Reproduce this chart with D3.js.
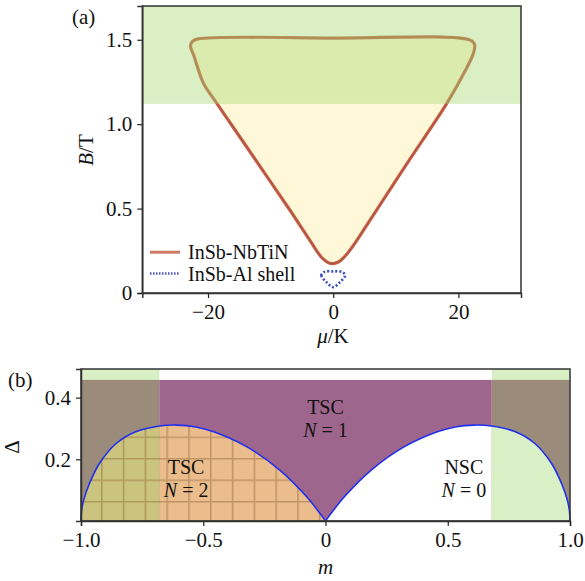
<!DOCTYPE html>
<html><head><meta charset="utf-8">
<script src="https://cdn.jsdelivr.net/npm/d3@7"></script>
</head><body style="margin:0;background:#fff">
<svg id="c" width="585" height="581"></svg>
<script>
// ---- Panel (a) data ----
const muTicks = [-20, 0, 20];
const bTicks = [0, 0.5, 1.0, 1.5];
const greenBandB = [1.12, 1.7];
const nbtinMu = [-21.6,-22.5,-22.8,-22.3,-20.7,-18.9,-12.8,-6.9,-3.7,-1.7,-0.4,0.9,2.6,6.2,12.2,18.1,21.0,22.4,22.6,21.9,0];
const nbtinB  = [1.505,1.49,1.46,1.41,1.24,1.14,0.81,0.49,0.31,0.205,0.175,0.185,0.25,0.45,0.79,1.12,1.31,1.42,1.47,1.498,1.51];
const alMu = [-1.4,-1.9,-1.1,0,1.1,1.9,1.4,0];
const alB  = [0.125,0.105,0.065,0.035,0.065,0.105,0.125,0.128];
const legendLabels = ["InSb-NbTiN", "InSb-Al shell"];
// ---- Panel (b) data ----
const mTicks = [-1.0, -0.5, 0, 0.5, 1.0];
const mTickLabels = ["\u22121.0", "\u22120.5", "0", "0.5", "1.0"];
const dTicks = [0.2, 0.4];
const mBound = 0.68, dTop = 0.4575;
const leftM = [-1,-0.998,-0.99,-0.965,-0.924,-0.855,-0.774,-0.678,-0.61,-0.53,-0.46,-0.323,-0.187,-0.078,0];
const leftD = [0,0.03,0.065,0.122,0.187,0.252,0.29,0.308,0.311,0.305,0.29,0.241,0.165,0.079,0];
const rightM = [0,0.078,0.187,0.323,0.46,0.53,0.61,0.678,0.774,0.855,0.924,0.965,0.99,0.998,1];
const rightD = [0,0.079,0.165,0.241,0.29,0.305,0.311,0.308,0.29,0.252,0.187,0.122,0.065,0.03,0];

const FONT = "Liberation Serif";
const FS = 21;
const svg = d3.select("#c");
const defs = svg.append("defs");

// ===== Panel (a) =====
const xa = d3.scaleLinear().domain([-30.5, 30]).range([142.3, 521]);
const ya = d3.scaleLinear().domain([0, 1.7]).range([293, 6]);
const ga = svg.append("g");
const nb = nbtinMu.map((m,i)=>[m, nbtinB[i]]);
const lineA = d3.line().x(d=>xa(d[0])).y(d=>ya(d[1])).curve(d3.curveCatmullRomClosed.alpha(0.5));
ga.append("path").attr("d", lineA(nb)).attr("fill","#fff8d8").attr("stroke","#c4614a").attr("stroke-width",3.2).attr("stroke-linejoin","round");
ga.append("path").attr("d", lineA(nb)).attr("fill","none").attr("stroke","#9c3e2a").attr("stroke-width",1).attr("opacity",0.5);
const al = alMu.map((m,i)=>[m, alB[i]]);
ga.append("path").attr("d", lineA(al)).attr("fill","none").attr("stroke","#3d4fc0").attr("stroke-width",2.6).attr("stroke-dasharray","2,2");
ga.append("rect").attr("x", xa(-30.5)).attr("width", xa(30)-xa(-30.5))
  .attr("y", ya(greenBandB[1])).attr("height", ya(greenBandB[0])-ya(greenBandB[1]))
  .attr("fill","#a6d873").attr("opacity",0.42);
ga.append("g").attr("transform",`translate(0,${ya(0)})`).call(d3.axisBottom(xa).tickValues(muTicks).tickSize(5).tickPadding(6).tickFormat(d=> d<0?"\u2212"+Math.abs(d):d));
ga.append("g").attr("transform",`translate(${xa(-30.5)},0)`).call(d3.axisLeft(ya).tickValues(bTicks).tickSize(5).tickPadding(5).tickFormat(d=> d===0?"0":d.toFixed(1)));
ga.append("rect").attr("x", xa(-30.5)).attr("y", ya(1.7)).attr("width", xa(30)-xa(-30.5)).attr("height", ya(0)-ya(1.7)).attr("fill","none").attr("stroke","#333").attr("stroke-width",1.5);
// legend
ga.append("line").attr("x1",150).attr("x2",180).attr("y1",252.2).attr("y2",252.2).attr("stroke","#d07a66").attr("stroke-width",3);
ga.append("line").attr("x1",150).attr("x2",180).attr("y1",273.5).attr("y2",273.5).attr("stroke","#4a55c8").attr("stroke-width",2.5).attr("stroke-dasharray","1.5,1.5");
ga.append("text").attr("class","pair").attr("x",188).attr("y",258.5).text(legendLabels[0]);
ga.append("text").attr("class","pair").attr("x",188).attr("y",281).text(legendLabels[1]);
const tb = ga.append("text").attr("transform","translate(93,150) rotate(-90)").attr("text-anchor","middle");
tb.append("tspan").attr("font-style","italic").text("B");
tb.append("tspan").text("/T");
const tm = ga.append("text").attr("x",333).attr("y",343).attr("text-anchor","middle");
tm.append("tspan").attr("font-style","italic").text("\u03bc");
tm.append("tspan").text("/K");
ga.append("text").attr("x",72).attr("y",24).text("(a)");

// ===== Panel (b) =====
const xb = d3.scaleLinear().domain([-1, 1]).range([81, 570]);
const yb = d3.scaleLinear().domain([0, 0.493]).range([520.9, 369]);
const gb = svg.append("g");
const L = leftM.map((m,i)=>[m,leftD[i]]);
const R = rightM.map((m,i)=>[m,rightD[i]]);
const cv = d3.curveCatmullRom.alpha(0.5);
function clipRect(id, m0, m1){
  defs.append("clipPath").attr("id",id).append("rect").attr("x",xb(m0)).attr("width",xb(m1)-xb(m0)).attr("y",0).attr("height",581);
}
clipRect("cNeg",-mBound,0); clipRect("cNegOut",-1,-mBound);
clipRect("cPos",0,mBound); clipRect("cPosOut",mBound,1);
function rectM(m0,m1,d0,d1,fill){
  gb.append("rect").attr("x",xb(m0)).attr("width",xb(m1)-xb(m0)).attr("y",yb(d1)).attr("height",yb(d0)-yb(d1)).attr("fill",fill);
}
rectM(-1,-mBound,0,0.493,"#d9efc5");
rectM(mBound,1,0,0.493,"#d9efc5");
rectM(-1,-mBound,0,dTop,"#9b8b7b");
rectM(mBound,1,0,dTop,"#9b8b7b");
rectM(-mBound,mBound,0,dTop,"#9e668c");
function belowArea(pts){ return d3.area().x(d=>xb(d[0])).y0(yb(0)).y1(d=>yb(d[1])).curve(cv)(pts); }
gb.append("path").attr("d",belowArea(L)).attr("fill","#ebbd8c").attr("clip-path","url(#cNeg)");
gb.append("path").attr("d",belowArea(L)).attr("fill","#cbc47e").attr("clip-path","url(#cNegOut)");
gb.append("path").attr("d",belowArea(R)).attr("fill","#ffffff").attr("clip-path","url(#cPos)");
gb.append("path").attr("d",belowArea(R)).attr("fill","#d9efc5").attr("clip-path","url(#cPosOut)");
const pat = defs.append("pattern").attr("id","hatch").attr("patternUnits","userSpaceOnUse")
  .attr("width",21.8).attr("height",21.5).attr("x",101.7-0.7).attr("y",501.7-0.7);
pat.append("rect").attr("x",0).attr("y",0).attr("width",1.5).attr("height",21.5).attr("fill","rgba(120,80,40,0.38)");
pat.append("rect").attr("x",1.5).attr("y",0).attr("width",20.3).attr("height",1.5).attr("fill","rgba(120,80,40,0.38)");
gb.append("path").attr("d",belowArea(L)).attr("fill","url(#hatch)");
const lineB = d3.line().x(d=>xb(d[0])).y(d=>yb(d[1])).curve(cv);
gb.append("path").attr("d",lineB(L)).attr("fill","none").attr("stroke","#1f2ff0").attr("stroke-width",1.6);
gb.append("path").attr("d",lineB(R)).attr("fill","none").attr("stroke","#1f2ff0").attr("stroke-width",1.6);
gb.append("g").attr("transform",`translate(0,${yb(0)})`).call(d3.axisBottom(xb).tickValues(mTicks).tickSize(5).tickPadding(6).tickFormat((d,i)=>mTickLabels[i]));
gb.append("g").attr("transform",`translate(${xb(-1)},0)`).call(d3.axisLeft(yb).tickValues(dTicks).tickSize(5).tickPadding(5).tickFormat(d=>d.toFixed(1)));
gb.append("rect").attr("x",xb(-1)).attr("y",yb(0.493)).attr("width",xb(1)-xb(-1)).attr("height",yb(0)-yb(0.493)).attr("fill","none").attr("stroke","#333").attr("stroke-width",1.5);
function lab(x, y1, t1, nval){
  gb.append("text").attr("class","pair").attr("x",xb(x)).attr("y",y1-0.8).attr("text-anchor","middle").text(t1);
  const t = gb.append("text").attr("class","pair").attr("x",xb(x)).attr("y",y1+21.6).attr("text-anchor","middle");
  t.append("tspan").attr("font-style","italic").text("N");
  t.append("tspan").text(" = "+nval);
}
lab(0, 415, "TSC", 1);
lab(-0.57, 475, "TSC", 2);
lab(0.566, 475, "NSC", 0);
gb.append("text").attr("transform","translate(19,447) rotate(-90)").attr("text-anchor","middle").text("\u0394");
gb.append("text").attr("x",325.5).attr("y",574).attr("text-anchor","middle").attr("font-style","italic").text("m");
gb.append("text").attr("x",8).attr("y",387).text("(b)");

svg.selectAll(".domain").attr("stroke","#333").attr("stroke-width",1.5);
svg.selectAll(".tick line").attr("stroke","#222").attr("stroke-width",1.2);
svg.selectAll("g").attr("font-family",null).attr("font-size",null);
svg.selectAll("text").attr("font-family",FONT).attr("font-size",FS).attr("fill","#111");
svg.selectAll("text.pair").attr("font-size",20);
</script>
</body></html>
